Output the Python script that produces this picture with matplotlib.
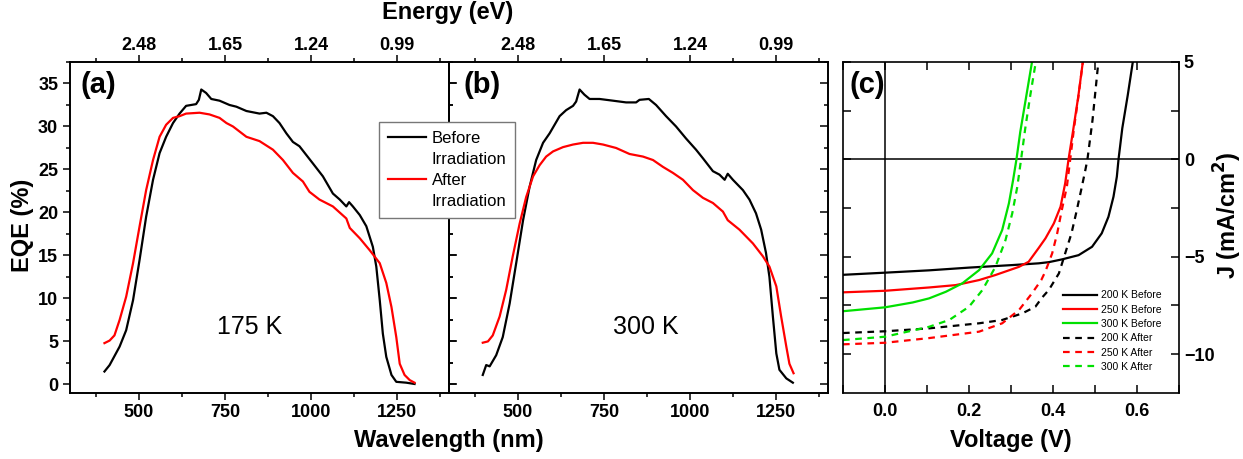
import matplotlib
matplotlib.use("Agg")
import matplotlib.pyplot as plt
from matplotlib.ticker import MultipleLocator
from matplotlib.lines import Line2D

plt.rcParams['font.family'] = ['Liberation Sans', 'DejaVu Sans']

# ---- EQE data, 175 K (panel a)
wl_a_before = [400, 415, 444, 463, 483, 502, 521, 541, 560, 579, 599, 618, 637, 666, 674, 681, 695, 710,
               734, 763, 783, 812, 850, 870, 889, 908, 928, 947, 966, 1005, 1034, 1063, 1083, 1102, 1110,
               1121, 1141, 1160, 1179, 1189, 1199, 1208, 1218, 1233, 1247, 1276, 1300]
eqe_a_before = [1.5, 2.25, 4.4, 6.3, 9.8, 14.5, 19.5, 23.8, 26.9, 28.8, 30.4, 31.5, 32.4, 32.6, 33.1, 34.3, 33.9, 33.2,
                33.0, 32.5, 32.3, 31.8, 31.5, 31.6, 31.2, 30.4, 29.2, 28.2, 27.7, 25.7, 24.2, 22.2, 21.5, 20.7, 21.2,
                20.7, 19.7, 18.4, 16.0, 13.7, 9.8, 5.9, 3.2, 1.1, 0.3, 0.2, 0.05]
wl_a_after = [400, 415, 429, 444, 463, 483, 502, 521, 541, 560, 579, 599, 618, 637, 676, 705, 734, 754, 773,
              812, 850, 889, 918, 947, 976, 995, 1024, 1063, 1102, 1112, 1141, 1170, 1199, 1218, 1233, 1247,
              1257, 1271, 1286, 1300]
eqe_a_after = [4.8, 5.1, 5.7, 7.5, 10.2, 14.1, 18.4, 22.6, 26.1, 28.8, 30.2, 31.0, 31.2, 31.5, 31.6, 31.4, 31.0, 30.4, 30.0,
               28.8, 28.3, 27.3, 26.1, 24.6, 23.6, 22.4, 21.5, 20.7, 19.3, 18.2, 17.0, 15.6, 14.1, 11.8, 9.0, 5.5,
               2.4, 1.1, 0.5, 0.2]

# ---- EQE data, 300 K (panel b)
wl_b_before = [398, 408, 418, 437, 456, 476, 495, 515, 534, 553, 573, 592, 621, 640, 660, 669, 679, 693, 708,
               737, 776, 814, 843, 853, 880, 901, 930, 959, 988, 1017, 1037, 1066, 1085, 1100, 1109, 1124,
               1153, 1172, 1191, 1206, 1220, 1230, 1240, 1250, 1259, 1279, 1298]
eqe_b_before = [1.1, 2.25, 2.1, 3.4, 5.5, 9.4, 14.1, 19.1, 23.0, 26.1, 28.1, 29.2, 31.2, 31.9, 32.4, 32.9, 34.3, 33.7, 33.2,
                33.2, 33.0, 32.8, 32.8, 33.1, 33.2, 32.5, 31.2, 30.0, 28.6, 27.3, 26.3, 24.8, 24.4, 23.8, 24.5, 23.8,
                22.6, 21.5, 19.9, 18.0, 15.3, 12.5, 7.9, 3.6, 1.7, 0.7, 0.2]
wl_b_after = [398, 413, 427, 447, 466, 485, 505, 524, 544, 563, 582, 602, 631, 660, 689, 718, 747, 785, 824,
              863, 892, 921, 950, 979, 1008, 1037, 1066, 1095, 1109, 1143, 1182, 1211, 1230, 1250, 1264, 1279,
              1288, 1300]
eqe_b_after = [4.85, 5.0, 5.7, 7.9, 11.0, 14.9, 18.7, 21.8, 24.2, 25.5, 26.5, 27.1, 27.6, 27.9, 28.1, 28.1, 27.9, 27.5, 26.8,
               26.5, 26.1, 25.3, 24.6, 23.8, 22.6, 21.7, 21.1, 20.1, 19.1, 18.0, 16.4, 14.9, 13.7, 11.4, 7.9, 4.4,
               2.4, 1.3]

energy_ticks_nm = [500, 750, 1000, 1250]

# ---- J-V data (panel c)
v_200_before = [-0.1, 0.0, 0.105, 0.2, 0.303, 0.366, 0.39, 0.421, 0.461, 0.493, 0.516, 0.532, 0.544,
                0.552, 0.556, 0.565, 0.578, 0.590]
j_200_before = [-5.93, -5.82, -5.70, -5.56, -5.43, -5.34, -5.28, -5.14, -4.92, -4.49, -3.80, -2.95, -1.92,
                -0.89, 0.0, 1.6, 3.3, 5.0]
v_250_before = [-0.1, 0.0, 0.105, 0.168, 0.224, 0.263, 0.319, 0.342, 0.366, 0.382, 0.402, 0.418, 0.429,
                0.437, 0.448, 0.460, 0.471]
j_250_before = [-6.83, -6.75, -6.58, -6.46, -6.20, -5.94, -5.52, -5.26, -4.55, -4.06, -3.29, -2.43, -1.23,
                0.0, 1.5, 3.2, 5.0]
v_300_before = [-0.1, 0.0, 0.066, 0.105, 0.145, 0.184, 0.224, 0.255, 0.279, 0.295, 0.305, 0.313, 0.322,
                0.336, 0.350]
j_300_before = [-7.80, -7.60, -7.35, -7.14, -6.80, -6.37, -5.69, -4.83, -3.63, -2.26, -1.06, 0.0, 1.4,
                3.2, 5.0]
v_200_after = [-0.1, 0.0, 0.105, 0.224, 0.279, 0.327, 0.358, 0.374, 0.390, 0.414, 0.429, 0.444, 0.455,
               0.467, 0.477, 0.482, 0.494, 0.508]
j_200_after = [-8.92, -8.83, -8.68, -8.42, -8.25, -7.91, -7.57, -7.10, -6.71, -5.86, -4.83, -3.80, -2.77,
               -1.58, -0.55, 0.0, 2.0, 5.0]
v_250_after = [-0.1, 0.0, 0.105, 0.224, 0.279, 0.319, 0.350, 0.372, 0.382, 0.398, 0.410, 0.421, 0.433,
               0.441, 0.450, 0.461, 0.471]
j_250_after = [-9.50, -9.42, -9.18, -8.85, -8.42, -7.74, -6.88, -6.20, -5.75, -4.83, -3.80, -2.60, -1.41,
               0.0, 1.6, 3.3, 5.0]
v_300_after = [-0.1, 0.0, 0.105, 0.153, 0.2, 0.232, 0.263, 0.287, 0.303, 0.315, 0.324, 0.334, 0.346, 0.359]
j_300_after = [-9.28, -9.11, -8.60, -8.25, -7.57, -6.71, -5.52, -4.14, -2.77, -1.41, 0.0, 1.6, 3.3, 5.0]

W, H = 1243, 459
fig = plt.figure(figsize=(W / 100, H / 100), dpi=100)

def px_axes(x0, y0, x1, y1):
    return fig.add_axes([x0 / W, 1 - y1 / H, (x1 - x0) / W, (y1 - y0) / H])

ax_a = px_axes(70, 62, 449, 393)
ax_b = px_axes(449, 62, 828, 393)
ax_c = px_axes(843, 62, 1179, 393)

tick_fs = 13
lab_fs = 17

for ax, before, after in [(ax_a, (wl_a_before, eqe_a_before), (wl_a_after, eqe_a_after)),
                          (ax_b, (wl_b_before, eqe_b_before), (wl_b_after, eqe_b_after))]:
    ax.plot(*before, color='black', lw=1.6)
    ax.plot(*after, color='red', lw=1.6)
    ax.set_xlim(300, 1400)
    ax.set_ylim(-1, 37.5)
    ax.xaxis.set_major_locator(MultipleLocator(250))
    ax.xaxis.set_minor_locator(MultipleLocator(125))
    ax.yaxis.set_major_locator(MultipleLocator(5))
    ax.yaxis.set_minor_locator(MultipleLocator(2.5))
    ax.tick_params(axis='x', which='both', direction='out', bottom=True, top=False, width=1.1)
    ax.tick_params(axis='x', which='major', length=5, labelsize=tick_fs, pad=3)
    ax.tick_params(axis='x', which='minor', length=3)
    for lbl in ax.get_xticklabels():
        lbl.set_fontweight('bold')
    for s in ax.spines.values():
        s.set_linewidth(1.2)
    top = ax.twiny()
    top.set_xlim(300, 1400)
    top.set_xticks(energy_ticks_nm)
    top.set_xticklabels(['%.2f' % (1240 / w) for w in energy_ticks_nm], fontweight='bold')
    top.xaxis.set_minor_locator(MultipleLocator(125))
    top.tick_params(axis='x', which='both', direction='out', width=1.1)
    top.tick_params(axis='x', which='major', length=5, labelsize=tick_fs, pad=1)
    top.tick_params(axis='x', which='minor', length=3)
    for s in top.spines.values():
        s.set_linewidth(1.2)
    ax.set_zorder(top.get_zorder() + 1)
    ax.patch.set_visible(False)

ax_a.tick_params(axis='y', which='both', left=True, right=True, width=1.1, labelsize=tick_fs)
ax_a.tick_params(axis='y', which='both', direction='out')
ax_a.tick_params(axis='y', which='major', length=5)
ax_a.tick_params(axis='y', which='minor', length=3)
for lbl in ax_a.get_yticklabels():
    lbl.set_fontweight('bold')
ax_b.tick_params(axis='y', which='both', left=True, right=True, labelleft=False, direction='in', width=1.1)
ax_b.tick_params(axis='y', which='major', length=6)
ax_b.tick_params(axis='y', which='minor', length=3)

ax_a.text(0.027, 0.93, '(a)', transform=ax_a.transAxes, fontsize=21, fontweight='bold', va='center')
ax_b.text(0.037, 0.93, '(b)', transform=ax_b.transAxes, fontsize=21, fontweight='bold', va='center')
ax_a.text(0.475, 0.2, '175 K', transform=ax_a.transAxes, fontsize=18, ha='center', va='center')
ax_b.text(0.52, 0.2, '300 K', transform=ax_b.transAxes, fontsize=18, ha='center', va='center')

# legend for EQE panels (second line of each label has no handle)
handles = [Line2D([], [], color='black', lw=1.6), Line2D([], [], color='none'),
           Line2D([], [], color='red', lw=1.6), Line2D([], [], color='none')]
labels = ['Before', 'Irradiation', 'After', 'Irradiation']
leg = fig.legend(handles, labels, loc='upper left', bbox_to_anchor=(379 / W, 1 - 122 / H),
                 borderaxespad=0, fontsize=12, frameon=True, fancybox=False, edgecolor='#777777',
                 framealpha=1, handlelength=2.3, handletextpad=0.3, labelspacing=0.36, borderpad=0.55)
leg.get_frame().set_linewidth(1.0)

# ---- panel c
ax_c.axhline(0, color='black', lw=1.1)
ax_c.axvline(0, color='black', lw=1.1)
ax_c.plot(v_200_before, j_200_before, color='black', lw=1.6, label='200 K Before')
ax_c.plot(v_250_before, j_250_before, color='red', lw=1.6, label='250 K Before')
ax_c.plot(v_300_before, j_300_before, color='#00e000', lw=1.6, label='300 K Before')
ax_c.plot(v_200_after, j_200_after, color='black', lw=1.6, ls=(0, (3, 2.5)), label='200 K After')
ax_c.plot(v_250_after, j_250_after, color='red', lw=1.6, ls=(0, (3, 2.5)), label='250 K After')
ax_c.plot(v_300_after, j_300_after, color='#00e000', lw=1.6, ls=(0, (3, 2.5)), label='300 K After')
ax_c.set_xlim(-0.1, 0.7)
ax_c.set_ylim(-12, 5)
ax_c.xaxis.set_major_locator(MultipleLocator(0.2))
ax_c.xaxis.set_minor_locator(MultipleLocator(0.1))
ax_c.yaxis.set_major_locator(MultipleLocator(5))
ax_c.yaxis.set_minor_locator(MultipleLocator(2.5))
ax_c.tick_params(which='both', direction='in', top=True, bottom=True, left=True, right=True,
                 labelleft=False, labelright=True, width=1.1, labelsize=tick_fs)
ax_c.tick_params(which='major', length=6)
ax_c.tick_params(which='minor', length=6)
ax_c.tick_params(axis='x', pad=7)
for lbl in ax_c.get_xticklabels() + ax_c.get_yticklabels():
    lbl.set_fontweight('bold')
for s in ax_c.spines.values():
    s.set_linewidth(1.2)
ax_c.text(0.02, 0.93, '(c)', transform=ax_c.transAxes, fontsize=21, fontweight='bold', va='center')
ax_c.legend(loc='lower right', bbox_to_anchor=(0.975, 0.035), frameon=False, fontsize=7.5,
            handlelength=3.3, handletextpad=0.3, labelspacing=0.42)

# axis titles
fig.text(448 / W, 1 - 12 / H, 'Energy (eV)', fontsize=lab_fs, fontweight='bold', ha='center', va='center')
fig.text(449 / W, 1 - 440 / H, 'Wavelength (nm)', fontsize=lab_fs, fontweight='bold', ha='center', va='center')
fig.text(1011 / W, 1 - 440 / H, 'Voltage (V)', fontsize=lab_fs, fontweight='bold', ha='center', va='center')
fig.text(23 / W, 1 - 225 / H, 'EQE (%)', fontsize=lab_fs, fontweight='bold', ha='center', va='center', rotation=90)
fig.text(1228 / W, 1 - 215 / H, 'J (mA/cm$^{\\mathbf{2}}$)', fontsize=lab_fs, fontweight='bold',
         ha='center', va='center', rotation=90)

fig.savefig('out.png', dpi=100)
